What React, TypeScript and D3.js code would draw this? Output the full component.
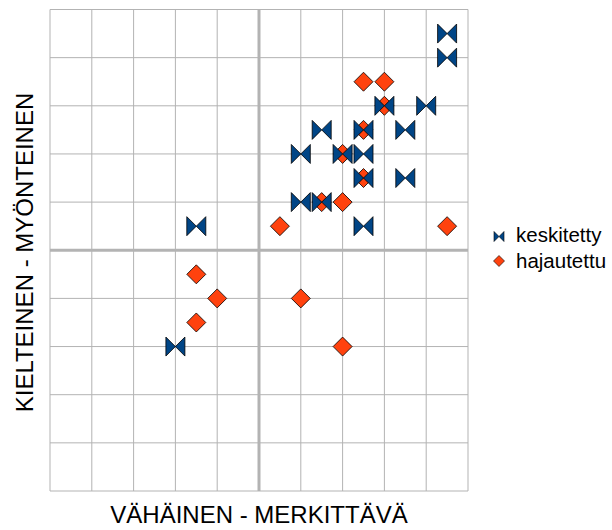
import React from 'react';
import * as d3 from 'd3';

// keskitetty (blue bow-tie markers)
const keskitettyX = [4.5, 4.5, 4, 3, 1.5, 2.5, 3.5, 1, 2, 2.5, 2.5, 3.5, 1, 1.5, 2.5, -1.5, -2];
const keskitettyY = [4.5, 4, 3, 3, 2.5, 2.5, 2.5, 2, 2, 2, 1.5, 1.5, 1, 1, 0.5, 0.5, -2];

// hajautettu (orange diamonds)
const hajautettuX = [2.5, 3, 3, 2.5, 2, 2.5, 1.5, 2, 0.5, 4.5, -1.5, -1, -1.5, 1, 2];
const hajautettuY = [3.5, 3.5, 3, 2.5, 2, 1.5, 1, 1, 0.5, 0.5, -0.5, -1, -1.5, -1, -2];

const seriesNames = ['keskitetty', 'hajautettu'];
const gridTicks = [-5, -4, -3, -2, -1, 0, 1, 2, 3, 4, 5];

const xTitle = 'VÄHÄINEN - MERKITTÄVÄ';
const yTitle = 'KIELTEINEN - MYÖNTEINEN';

const BLUE = '#004586';
const ORANGE = '#ff420e';
const GRID = '#b3b3b3';

const bowtie = (r: number) =>
  `M${-r},${-r}L0,0L${-r},${r}Z M${r},${-r}L0,0L${r},${r}Z`;
const diamond = (r: number) => `M0,${-r}L${r},0L0,${r}L${-r},0Z`;

export default function App() {
  const x = d3.scaleLinear().domain([-5, 5]).range([50, 468]);
  const y = d3.scaleLinear().domain([-5, 5]).range([491, 9.5]);

  const kesk = keskitettyX.map((v, i) => ({ x: v, y: keskitettyY[i] }));
  const haja = hajautettuX.map((v, i) => ({ x: v, y: hajautettuY[i] }));
  const font = '"Liberation Sans", Arial, sans-serif';

  return (
    <svg
      width={612}
      height={530}
      style={{ position: 'absolute', left: 0, top: 0, background: '#fff' }}
    >
      {/* grid */}
      <g>
        {gridTicks.map(t => (
          <line
            key={'v' + t}
            x1={x(t)}
            x2={x(t)}
            y1={y(-5)}
            y2={y(5)}
            stroke={GRID}
            strokeWidth={t === 0 ? 3 : 1}
          />
        ))}
        {gridTicks.map(t => (
          <line
            key={'h' + t}
            x1={x(-5)}
            x2={x(5)}
            y1={y(t)}
            y2={y(t)}
            stroke={GRID}
            strokeWidth={t === 0 ? 3 : 1}
          />
        ))}
      </g>

      {/* hajautettu drawn first so the bow-ties sit on top */}
      <g>
        {haja.map((d, i) => (
          <path
            key={i}
            d={diamond(9.5)}
            transform={`translate(${x(d.x)},${y(d.y)})`}
            fill={ORANGE}
            stroke="#000"
            strokeWidth={0.8}
          />
        ))}
      </g>
      <g>
        {kesk.map((d, i) => (
          <path
            key={i}
            d={bowtie(9.5)}
            transform={`translate(${x(d.x)},${y(d.y)})`}
            fill={BLUE}
            stroke="#000"
            strokeWidth={0.8}
          />
        ))}
      </g>

      {/* axis titles */}
      <text
        x={x(0)}
        y={523}
        textAnchor="middle"
        fontFamily={font}
        fontSize={24}
        fill="#000"
      >
        {xTitle}
      </text>
      <text
        transform={`translate(33,252.5) rotate(-90)`}
        textAnchor="middle"
        fontFamily={font}
        fontSize={24}
        fill="#000"
      >
        {yTitle}
      </text>

      {/* legend */}
      <g>
        <path
          d={bowtie(5)}
          transform="translate(499,236.5)"
          fill={BLUE}
          stroke="#000"
          strokeWidth={0.6}
        />
        <text x={516} y={242} fontFamily={font} fontSize={20.5} fill="#000">
          {seriesNames[0]}
        </text>
        <path
          d={diamond(5.5)}
          transform="translate(499,261)"
          fill={ORANGE}
          stroke="#000"
          strokeWidth={0.6}
        />
        <text x={516} y={267.5} fontFamily={font} fontSize={20.5} fill="#000">
          {seriesNames[1]}
        </text>
      </g>
    </svg>
  );
}
